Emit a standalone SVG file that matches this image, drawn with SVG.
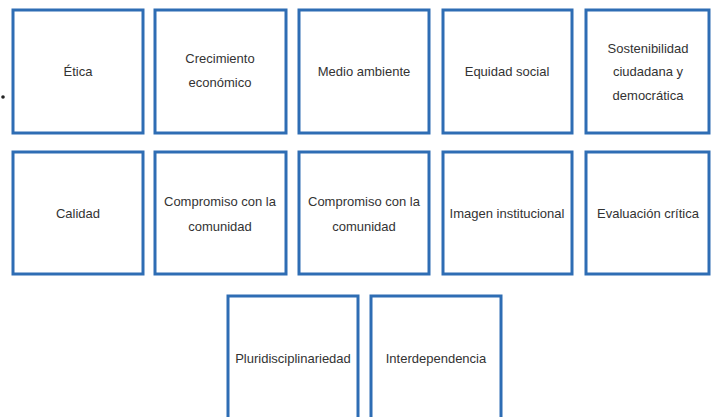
<svg xmlns="http://www.w3.org/2000/svg" width="711" height="417" viewBox="0 0 711 417">
<style>
.box{fill:#fff;stroke:#2E6DB4;stroke-width:3}
.t{font-family:"Liberation Sans Narrow","Liberation Sans",Arial,sans-serif;font-size:13px;fill:#333;text-anchor:middle}
</style>
<rect width="711" height="417" fill="#fff"/>
<circle cx="3" cy="97" r="1.8" fill="#222"/>
<g id="n-etica"><rect class="box" x="13" y="10" width="130" height="123"/><text class="t" x="78" y="76">Ética</text></g>
<g id="n-crecimiento"><rect class="box" x="155" y="10" width="131" height="123"/><text class="t" x="220" y="63">Crecimiento</text><text class="t" x="220" y="87">económico</text></g>
<g id="n-medio"><rect class="box" x="299" y="10" width="130" height="123"/><text class="t" x="364" y="76">Medio ambiente</text></g>
<g id="n-equidad"><rect class="box" x="443" y="10" width="129" height="123"/><text class="t" x="507" y="76">Equidad social</text></g>
<g id="n-sostenibilidad"><rect class="box" x="586" y="10" width="123" height="123"/><text class="t" x="648" y="53">Sostenibilidad</text><text class="t" x="648" y="76">ciudadana y</text><text class="t" x="648" y="100">democrática</text></g>
<g id="n-calidad"><rect class="box" x="13" y="152" width="130" height="122"/><text class="t" x="78" y="218">Calidad</text></g>
<g id="n-compromiso1"><rect class="box" x="155" y="152" width="131" height="122"/><text class="t" x="220" y="206">Compromiso con la</text><text class="t" x="220" y="231">comunidad</text></g>
<g id="n-compromiso2"><rect class="box" x="299" y="152" width="130" height="122"/><text class="t" x="364" y="206">Compromiso con la</text><text class="t" x="364" y="231">comunidad</text></g>
<g id="n-imagen"><rect class="box" x="443" y="152" width="129" height="122"/><text class="t" x="507" y="218">Imagen institucional</text></g>
<g id="n-evaluacion"><rect class="box" x="586" y="152" width="123" height="122"/><text class="t" x="648" y="218">Evaluación crítica</text></g>
<g id="n-pluri"><rect class="box" x="228" y="296" width="130" height="125"/><text class="t" x="293" y="363">Pluridisciplinariedad</text></g>
<g id="n-inter"><rect class="box" x="371" y="296" width="130" height="125"/><text class="t" x="436" y="363">Interdependencia</text></g>
<g id="connectors"></g>
</svg>
